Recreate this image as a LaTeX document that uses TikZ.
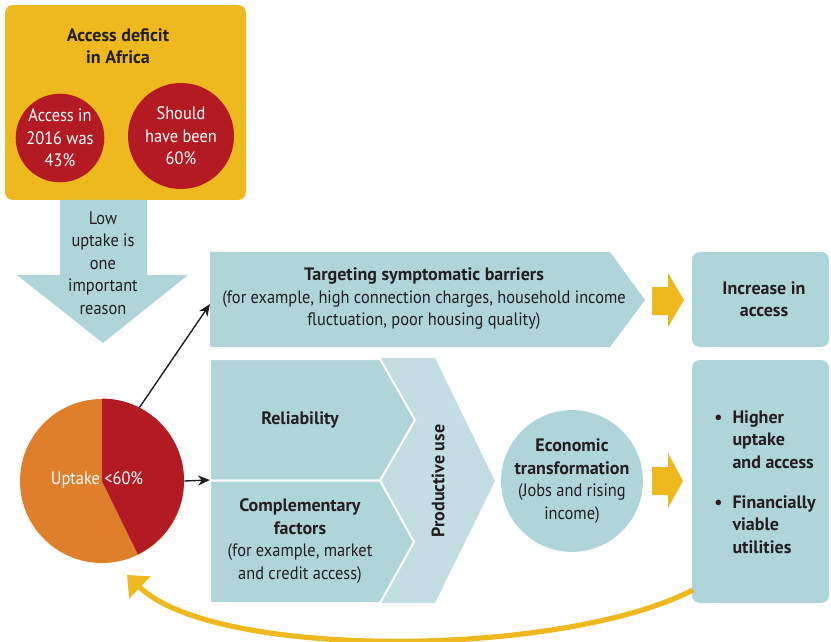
\documentclass[tikz,border=0pt]{standalone}
\usepackage{fontspec}
\setmainfont{PT Sans}[UprightFeatures={FakeStretch=0.91}]
\usepackage{tikz}
\usetikzlibrary{positioning, calc, arrows.meta}

\definecolor{boxgold}{HTML}{EEB91F}
\definecolor{dotred}{HTML}{B31A23}
\definecolor{pieorange}{HTML}{E07F2B}
\definecolor{chevblue}{HTML}{AFD4DA}
\definecolor{paleblue}{HTML}{C3DEE2}
\definecolor{ink}{HTML}{231F20}

\tikzset{
	txt/.style={font=\fontsize{9}{11.25}\selectfont, text=ink, align=center, inner sep=0pt},
	boldtxt/.style={txt, font=\fontsize{9}{11.25}\selectfont\bfseries},
	reddot/.style={circle, fill=dotred, txt, text=white},
	chev/.style={fill=chevblue, draw=white, line width=1pt},
	thinarrow/.style={-{Stealth[length=6pt,width=5pt]}, line width=0.7pt, draw=ink},
}

\begin{document}
\begin{tikzpicture}[x=0.5pt, y=-0.5pt]
	\useasboundingbox (0,0) rectangle (831,642);
	
	%//access deficit box
	\fill[boxgold, rounded corners=4pt] (5,5) rectangle (246,200);
	\node[boldtxt] (deficit) at (118,46) {Access deficit\\in Africa};
	\node[reddot, minimum size=44pt] (access) at (60,138) {Access in\\2016 was\\43\%};
	\node[reddot, minimum size=53pt] (should) at (181,136) {Should\\have been\\60\%};
	
	%//down arrow
	\fill[chevblue] (60,200) -- (147,200) -- (147,275) -- (188,275) -- (103,343) -- (17,275) -- (60,275) -- cycle;
	\node[txt] (reason) at (103,263) {Low\\uptake is\\one\\important\\reason};
	
	%//top row
	\fill[chevblue] (210,252) -- (610,252) -- (645,300) -- (610,347) -- (210,347) -- cycle;
	\coordinate (tin) at (210,304);
	\node[txt] (target) at (424,299) {\textbf{Targeting symptomatic barriers}\\(for example, high connection charges, household income\\fluctuation, poor housing quality)};
	\fill[boxgold] (652,287) -- (668,287) -- (668,273) -- (684,300) -- (668,327) -- (668,315) -- (652,315) -- cycle;
	\fill[chevblue, rounded corners=4pt] (692,252) rectangle (829,347);
	\node[boldtxt] (incr) at (764,299) {Increase in\\access};
	
	%//pie
	\node[circle, fill=pieorange, minimum size=82pt, inner sep=0pt] (pie) at (102,481) {};
	\fill[dotred] (pie.center) -- (pie.north) arc[start angle=90, end angle=-64, radius=41pt] -- cycle;
	\node[txt, text=white] (uptake) at (97,480) {Uptake <60\%};
	
	%//middle chevrons
	\fill[paleblue] (380,358) -- (435,358) -- (495,481) -- (435,603) -- (380,603) -- cycle;
	\filldraw[chev] (210,359) -- (380,359) -- (415,420) -- (380,480.5) -- (210,480.5) -- cycle;
	\filldraw[chev] (210,480.5) -- (380,480.5) -- (414,542) -- (380,603) -- (210,603) -- cycle;
	\coordinate (rin) at (210,480);
	\node[boldtxt] (rel) at (300,420) {Reliability};
	\node[txt] (comp) at (300,541) {\textbf{Complementary}\\\textbf{factors}\\(for example, market\\and credit access)};
	\node[boldtxt, rotate=90] (prod) at (438,481) {Productive use};
	
	%//economic transformation
	\node[circle, fill=chevblue, txt, minimum size=69pt] (econ) at (572,481) {\textbf{Economic}\\\textbf{transformation}\\(Jobs and rising\\income)};
	\fill[boxgold] (652,467) -- (668,467) -- (668,453) -- (683,481) -- (668,508) -- (668,495) -- (652,495) -- cycle;
	\fill[chevblue, rounded corners=4pt] (692,360) rectangle (829,603);
	\node[boldtxt, anchor=north west, align=left] (outcome) at (714,407) {%
		\begin{tabular}{@{}l@{\hspace{5pt}}l@{}}
			\textbullet & Higher\\
			& uptake\\
			& and access\\[8.75pt]
			\textbullet & Financially\\
			& viable\\
			& utilities
	\end{tabular}};
	
	%//connectors
	\draw[thinarrow] (pie.63) -- (tin);
	\draw[thinarrow] (pie.east) -- (rin);
	\coordinate (fbout) at (693,590);
	\coordinate (fbin) at (127,575);
	\draw[boxgold, line width=2.6pt, -{Triangle[length=9pt,width=15pt]}] (fbout) .. controls (560,658) and (215,660) .. (fbin);
\end{tikzpicture}
\end{document}
